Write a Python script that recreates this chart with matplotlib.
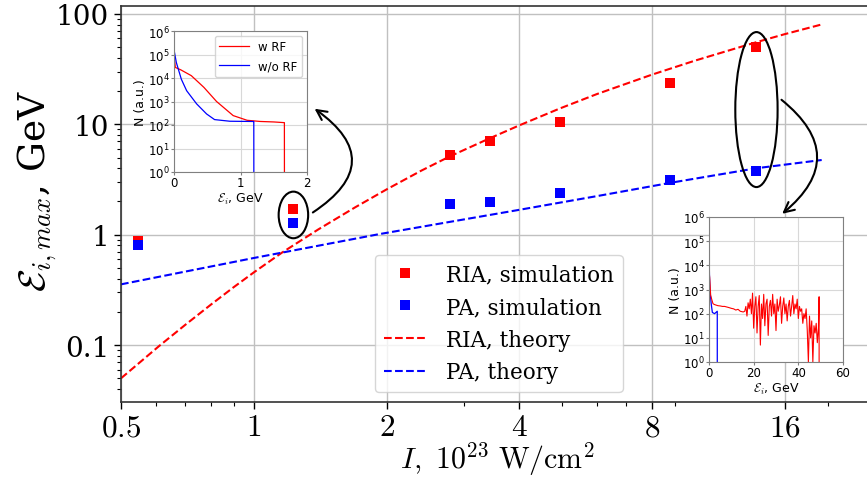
import numpy as np
import matplotlib
matplotlib.use("Agg")
import matplotlib.pyplot as plt
from matplotlib.patches import Ellipse
from matplotlib.ticker import FixedLocator, LogLocator, NullFormatter

plt.rcParams['font.family'] = 'DejaVu Serif'
plt.rcParams['mathtext.fontset'] = 'cm'

# simulation points (intensity in 1e23 W/cm^2, max ion energy in GeV)
sim_I = [0.546, 1.23, 2.78, 3.43, 4.94, 8.8, 13.8]
ria_sim = [0.88, 1.71, 5.28, 7.02, 10.6, 23.7, 50.6]
pa_sim = [0.80, 1.27, 1.89, 1.97, 2.37, 3.10, 3.78]

# theory curves
ria_th_I = [0.5, 0.55, 0.61, 0.7, 0.8, 0.9, 1.0, 1.16, 1.4, 1.7, 2.0, 2.4, 2.78, 3.4,
            4.0, 4.94, 6.0, 8.0, 10.0, 13.8, 16.0, 19.4]
ria_th = [0.05, 0.069, 0.098, 0.153, 0.233, 0.334, 0.455, 0.69, 1.115, 1.775, 2.57, 3.81,
          5.11, 7.36, 9.78, 13.9, 18.8, 28.2, 37.7, 55.5, 65.6, 80.3]
pa_th_I = [0.5, 1.0, 1.92, 4.0, 6.09, 8.8, 13.8, 19.4]
pa_th = [0.355, 0.615, 1.01, 1.68, 2.26, 2.95, 4.0, 4.75]

x_ticks = [0.5, 1, 2, 4, 8, 16]
x_ticklabels = ['0.5', '1', '2', '4', '8', '16']
y_ticks = [0.1, 1, 10, 100]
y_ticklabels = ['0.1', '1', '10', '100']

# inset 1 spectra at I = 1.23 (log10 N)
s1_wrf_E = [0, 0.02, 0.1, 0.26, 0.45, 0.64, 0.89, 1.1, 1.3, 1.5, 1.66, 1.661]
s1_wrf_logN = [5.0, 4.45, 4.35, 4.1, 3.6, 3.0, 2.4, 2.2, 2.15, 2.13, 2.1, -1]
s1_worf_E = [0, 0.035, 0.11, 0.19, 0.34, 0.49, 0.61, 0.84, 1.19, 1.2, 1.201]
s1_worf_logN = [5.2, 4.66, 3.95, 3.46, 2.9, 2.47, 2.23, 2.16, 2.15, 2.15, -1]

# inset 2 spectra at I = 13.8 (log10 N)
s2_wrf_E = [0, 0.3, 0.75, 1.2, 1.8, 2.4, 3, 4, 5, 6, 7, 7.8, 9, 10, 11, 12, 13, 14, 15.3,
            16.0, 16.5, 17.0, 17.5, 18.0, 18.5, 19.0, 19.5, 20.0, 20.5, 21.0, 21.5,
            22.0, 22.5, 23.0, 23.5, 24.0, 24.5, 25.0, 25.5, 26.0, 26.5, 27.0, 27.5,
            28.0, 28.5, 29.0, 29.5, 30.0, 30.5, 31.0, 31.5, 32.0, 32.5, 33.0, 33.5,
            34.0, 34.5, 35.0, 35.5, 36.0, 36.5, 37.0, 37.5, 38.0, 38.5, 39.0, 39.5,
            40.0, 40.5, 41.0, 41.5, 42.0, 42.5, 43.0, 43.5, 44.0, 44.5, 45.0, 45.5,
            46.0, 46.5, 47.0, 47.5, 48.0, 48.5, 49.0, 49.3, 49.31]
s2_wrf_logN = [3.8, 3.5, 2.76, 2.6, 2.41, 2.38, 2.36, 2.33, 2.32, 2.3, 2.3, 2.28, 2.25, 2.22,
               2.2, 2.15, 2.18, 2.1, 2.07,
               2.1, 2.3, 1.9, 2.45, 2.2, 2.6, 2.0, 2.85, 1.4, 2.3, 2.7, 1.2,
               2.3, 2.75, 0.7, 2.4, 1.8, 2.8, 1.5, 2.4, 2.6, 1.1, 2.3, 2.55,
               1.9, 2.8, 2.0, 2.4, 1.3, 2.6, 2.1, 2.35, 2.7, 1.6, 2.3, 2.65,
               2.0, 2.4, 1.7, 2.3, 2.55, 1.9, 2.3, 2.75, 2.0, 2.4, 2.2, 2.6,
               1.8, 2.3, 2.1, 2.2, 1.6, 2.0, 1.8, 2.2, 1.3, 0.0, 1.9, 1.0,
               1.7, 0.0, 1.5, 1.2, 1.6, 0.8, 1.4, 2.7, -1]
s2_worf_E = [0, 0.2, 0.5, 1.0, 1.5, 2.5, 3.7, 3.71]
s2_worf_logN = [4.8, 3.6, 2.9, 2.4, 2.05, 2.0, 2.1, -1]

W, H = 867, 481
fig = plt.figure(figsize=(W / 100, H / 100), dpi=100)

ax = fig.add_axes([121 / W, 78 / H, 779 / W, 396 / H])
ax.set_xscale('log')
ax.set_yscale('log')
ax.set_xlim(0.5, 29.2)
ax.set_ylim(0.0305, 118)
ax.grid(True, which='major', color='#c0c0c0', lw=1.0)
ax.set_axisbelow(True)

ax.plot(sim_I, ria_sim, 's', color='red', ms=7.5, mew=0, label='RIA, simulation')
ax.plot(sim_I, pa_sim, 's', color='blue', ms=7.5, mew=0, label='PA, simulation')
ax.plot(ria_th_I, ria_th, '--', color='red', lw=1.5, label='RIA, theory')
ax.plot(pa_th_I, pa_th, '--', color='blue', lw=1.5, label='PA, theory')

ax.xaxis.set_major_locator(FixedLocator(x_ticks))
ax.set_xticklabels(['$%s$' % t for t in x_ticklabels], fontsize=22.5)
ax.xaxis.set_minor_locator(LogLocator(base=10, subs=np.arange(2, 10)))
ax.xaxis.set_minor_formatter(NullFormatter())
ax.yaxis.set_major_locator(FixedLocator(y_ticks))
ax.set_yticklabels(y_ticklabels, fontsize=20)
ax.yaxis.set_minor_locator(LogLocator(base=10, subs=np.arange(2, 10)))
ax.yaxis.set_minor_formatter(NullFormatter())
ax.tick_params(which='major', length=5, width=1)
ax.tick_params(which='minor', length=3, width=0.8)
ax.tick_params(axis='x', which='major', pad=1.5)
for s in ax.spines.values():
    s.set_linewidth(1.2)
    s.set_color('#333333')

ax.set_xlabel(r'$I,\ 10^{23}\ \mathrm{W/cm^2}$', fontsize=21.5)
ax.xaxis.set_label_coords((497 - 121) / 779, -0.094)
ax.set_ylabel(r'$\mathcal{E}_{i,max}$, GeV', fontsize=27)
ax.yaxis.set_label_coords(-0.08, 0.535)

ax.legend(loc='lower left', bbox_to_anchor=(0.326, 0.025), borderaxespad=0,
          fontsize=15.5, handlelength=2.0, handletextpad=0.9, labelspacing=0.5)

# ellipses around the two selected intensities
def ellipse_at(x, y, w, h):
    cx, cy = ax.transAxes.inverted().transform(ax.transData.transform((x, y)))
    e = Ellipse((cx, cy), w, h, transform=ax.transAxes, fill=False,
                ec='black', lw=1.5, clip_on=False, zorder=5)
    ax.add_patch(e)

ellipse_at(1.23, 1.51, 29.5 / 779, 46.6 / 396)
ellipse_at(13.8, 13.6, 42.3 / 779, 155 / 396)

# inset 1
ins1 = fig.add_axes([174 / W, 308 / H, 133 / W, 141 / H])
ins1.plot(s1_wrf_E, [10 ** v for v in s1_wrf_logN], color='red', lw=0.9, label='w RF')
ins1.plot(s1_worf_E, [10 ** v for v in s1_worf_logN], color='blue', lw=0.9, label='w/o RF')
ins1.set_xlim(0, 2)
ins1.set_xticks([0, 1, 2])

# inset 2
ins2 = fig.add_axes([709 / W, 118 / H, 134 / W, 145 / H])
ins2.plot(s2_worf_E, [10 ** v for v in s2_worf_logN], color='blue', lw=0.9)
ins2.plot(s2_wrf_E, [10 ** v for v in s2_wrf_logN], color='red', lw=0.8)
ins2.set_xlim(0, 60)
ins2.set_xticks([0, 20, 40, 60])

for ia in (ins1, ins2):
    ia.set_yscale('log')
    ia.set_ylim(1, 1e6)
    ia.yaxis.set_major_locator(FixedLocator([1, 10, 100, 1e3, 1e4, 1e5, 1e6]))
    ia.yaxis.set_minor_locator(FixedLocator([]))
    ia.grid(True, color='#d8d8d8', lw=0.8)
    ia.tick_params(labelsize=8.5, length=2, color='#808080', pad=1)
    for lab in ia.get_xticklabels() + ia.get_yticklabels():
        lab.set_family('DejaVu Sans')
    for s in ia.spines.values():
        s.set_color('#808080')
    ia.set_ylabel('N (a.u.)', fontsize=9, family='DejaVu Sans', labelpad=1)
    ia.set_xlabel(r'$\mathcal{E}_i$, GeV', fontsize=9, family='DejaVu Sans', labelpad=1)

ins1.legend(loc='upper right', prop={'family': 'DejaVu Sans', 'size': 8.5},
            handlelength=2.5, borderaxespad=0.4)

# curved arrows from the ellipses to the insets
ax.annotate('', xy=(1.04, 0.46), xycoords=ins1.transAxes,
            xytext=(1.345, 1.54), textcoords='data', annotation_clip=False,
            arrowprops=dict(arrowstyle='->', lw=1.5, color='black',
                            connectionstyle='arc3,rad=0.75', mutation_scale=18))
ax.annotate('', xy=(0.53, 1.01), xycoords=ins2.transAxes,
            xytext=(15.55, 17.3), textcoords='data', annotation_clip=False,
            arrowprops=dict(arrowstyle='->', lw=1.5, color='black',
                            connectionstyle='arc3,rad=-0.63', mutation_scale=18))

fig.savefig('out.png', dpi=100)
